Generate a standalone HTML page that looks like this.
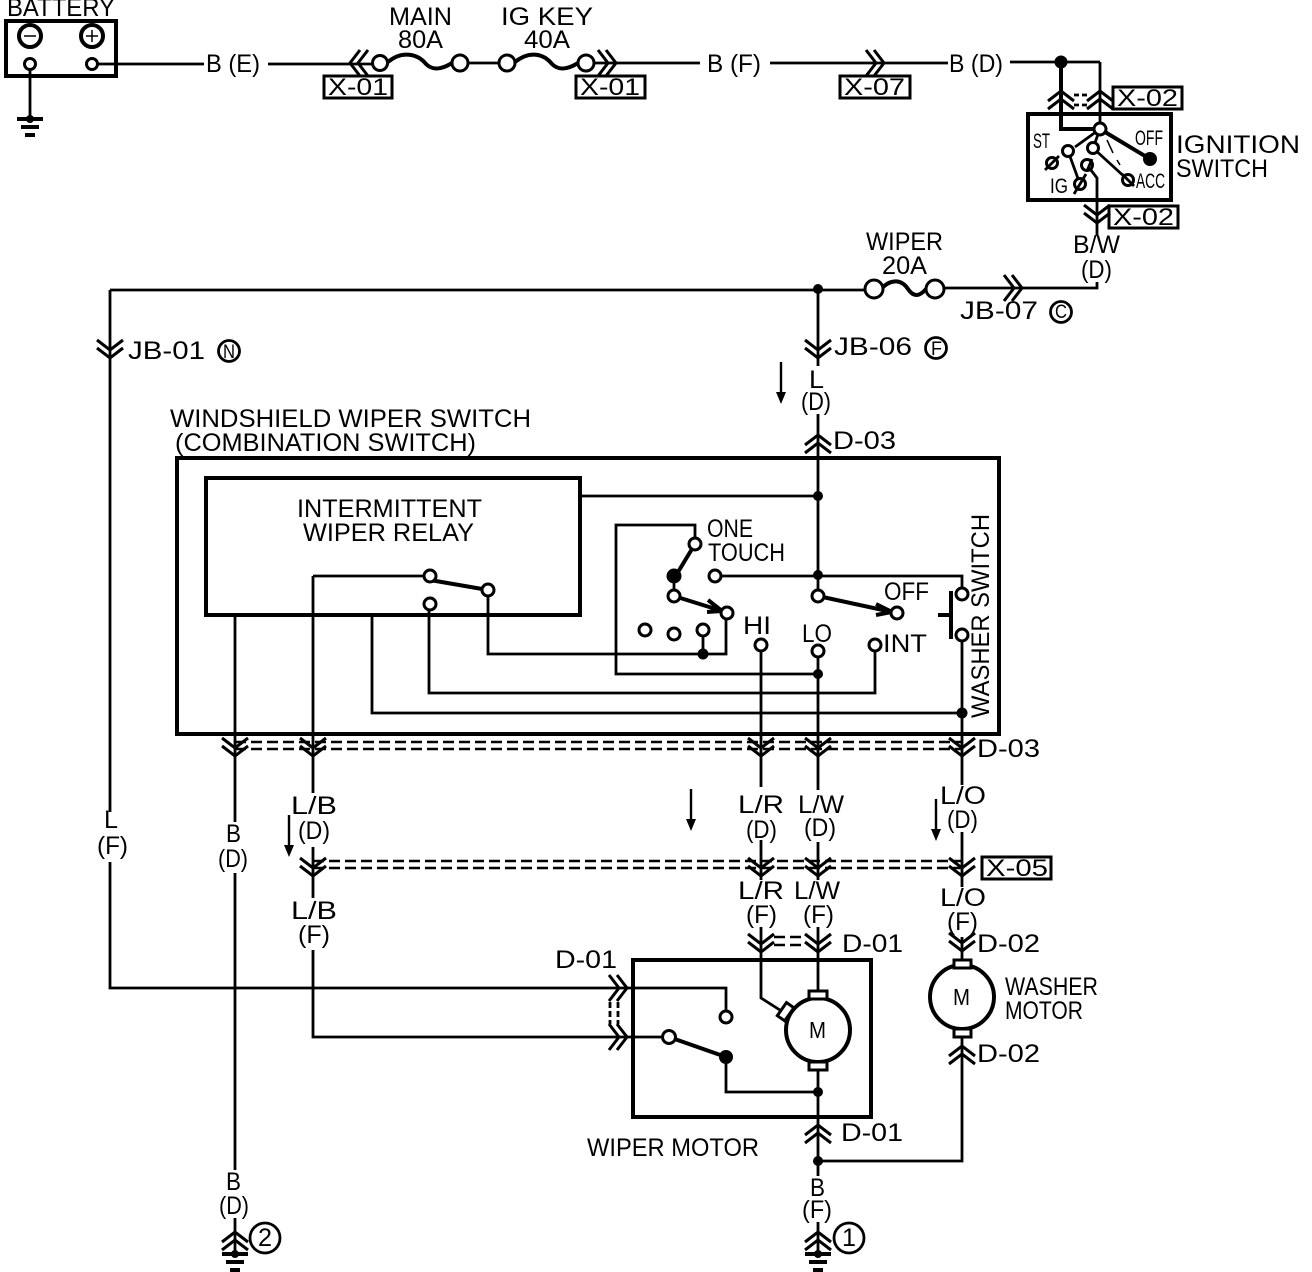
<!DOCTYPE html>
<html><head><meta charset="utf-8"><style>
html,body{margin:0;padding:0;background:#fff;width:1312px;height:1272px;overflow:hidden}
svg{display:block}
text{font-family:"Liberation Sans",sans-serif;font-size:25px;fill:#000}
.w{fill:none;stroke:#000;stroke-width:2.8}
.t{fill:none;stroke:#000;stroke-width:4}
.c{fill:none;stroke:#000;stroke-width:3}
.d{fill:none;stroke:#000;stroke-width:2.4;stroke-dasharray:11 5}
.o{fill:#fff;stroke:#000;stroke-width:3}
.f{fill:#000;stroke:none}
.b{fill:none;stroke:#000;stroke-width:3}
.s{font-size:24px}
.l{font-size:19px}
</style></head><body>
<svg width="1312" height="1272" viewBox="0 0 1312 1272" xmlns="http://www.w3.org/2000/svg">
<defs>
<path id="cd" class="c" d="M-13,-10 L0,0 L13,-10 M-13,-2 L0,8 L13,-2"/>
<path id="cu" class="c" d="M-13,10 L0,0 L13,10 M-13,2 L0,-8 L13,2"/>
<path id="cr" class="c" d="M-10,-13 L0,0 L-10,13 M-2,-13 L8,0 L-2,13"/>
<path id="cl" class="c" d="M10,-13 L0,0 L10,13 M2,-13 L-8,0 L2,13"/>
<g id="gnd"><path class="t" d="M-13,0H13M-9,8H9M-5,16H5"/><circle class="f" r="4"/></g>
<path id="ar" class="f" d="M-5,30 L5,30 L0,42Z M-1.2,0H1.2V32H-1.2Z"/>
</defs>

<!-- battery -->
<rect class="t" x="6" y="21" width="110" height="55"/>
<circle class="t" cx="30" cy="36" r="11"/><path stroke="#000" stroke-width="1.5" d="M24,36H36"/>
<circle class="t" cx="92" cy="36" r="11"/><path stroke="#000" stroke-width="1.5" d="M86,36H98M92,30V42"/>
<path class="w" d="M30,68V119M97,64H204M268,64H380"/>
<circle class="o" cx="30" cy="64" r="5.5"/><circle class="o" cx="92" cy="64" r="5.5"/>
<use href="#gnd" x="30" y="119"/>
<text x="7" y="16" textLength="108" lengthAdjust="spacingAndGlyphs">BATTERY</text>
<text x="206" y="72" textLength="54" lengthAdjust="spacingAndGlyphs">B (E)</text>
<use href="#cl" x="358" y="63"/>

<!-- fuses -->
<path class="t" d="M388,62 C402,50 418,54 426,64 C434,72 444,68 452,63"/>
<path class="w" d="M468,63H500M594,63H700M770,63H948M1010,62H1100"/>
<path class="t" d="M515,62 C530,50 544,54 552,64 C560,72 570,68 578,63"/>
<circle class="o" cx="380" cy="63" r="7.5"/><circle class="o" cx="460" cy="63" r="8"/>
<circle class="o" cx="507" cy="63" r="8"/><circle class="o" cx="586" cy="63" r="8"/>
<use href="#cr" x="608" y="63"/><use href="#cr" x="876" y="63"/>
<text x="389" y="25" textLength="63" lengthAdjust="spacingAndGlyphs">MAIN</text>
<text x="398" y="48" textLength="45" lengthAdjust="spacingAndGlyphs">80A</text>
<text x="501" y="25" textLength="92" lengthAdjust="spacingAndGlyphs">IG KEY</text>
<text x="524" y="48" textLength="46" lengthAdjust="spacingAndGlyphs">40A</text>
<rect class="b" x="324" y="76" width="68" height="22" fill="#fff"/><text x="328" y="95" class="s" textLength="60" lengthAdjust="spacingAndGlyphs">X-01</text>
<rect class="b" x="576" y="76" width="69" height="22"/><text x="580" y="95" class="s" textLength="60" lengthAdjust="spacingAndGlyphs">X-01</text>
<rect class="b" x="840" y="76" width="70" height="22"/><text x="844" y="95" class="s" textLength="61" lengthAdjust="spacingAndGlyphs">X-07</text>
<text x="707" y="72" textLength="54" lengthAdjust="spacingAndGlyphs">B (F)</text>
<text x="949" y="72" textLength="54" lengthAdjust="spacingAndGlyphs">B (D)</text>

<!-- ignition switch -->
<circle class="f" cx="1061" cy="62" r="6.5"/>
<path class="t" d="M1061,62V129H1100"/><path class="w" d="M1100,62V129"/>
<use href="#cu" x="1061" y="99"/><use href="#cu" x="1100" y="99"/>
<path class="w" d="M1074,95H1088M1074,105H1088" stroke-dasharray="5 3"/>
<rect class="t" x="1028" y="114" width="143" height="86"/>
<path class="t" d="M1100,129L1150,159"/><circle class="f" cx="1150" cy="159" r="7"/>
<path class="w" d="M1100,129L1075,147M1100,129L1093,148M1093,148L1128,180M1068,151L1080,184M1087,165L1097,178V236"/>
<path stroke="#000" stroke-width="1.5" d="M1107,140L1113,153M1117,160L1120,165"/>
<circle class="o" cx="1100" cy="129" r="6"/>
<circle class="o" cx="1068" cy="151" r="5.5"/><circle class="o" cx="1052" cy="163" r="5.5"/>
<circle class="o" cx="1093" cy="148" r="5.5"/><circle class="o" cx="1087" cy="165" r="5.5"/>
<circle class="o" cx="1080" cy="184" r="5.5"/><circle class="o" cx="1128" cy="180" r="5.5"/>
<path class="w" d="M1045,170L1059,156M1074,194L1086,174M1122,174L1134,186M1087,171L1092,159"/>
<use href="#cd" x="1097" y="215"/>
<rect class="b" x="1113" y="87" width="69" height="22"/><text x="1117" y="106" class="s" textLength="61" lengthAdjust="spacingAndGlyphs">X-02</text>
<rect class="b" x="1109" y="206" width="69" height="22"/><text x="1113" y="225" class="s" textLength="61" lengthAdjust="spacingAndGlyphs">X-02</text>
<text x="1176" y="153" textLength="124" lengthAdjust="spacingAndGlyphs">IGNITION</text>
<text x="1176" y="177" textLength="92" lengthAdjust="spacingAndGlyphs">SWITCH</text>
<text x="1135" y="145" textLength="28" lengthAdjust="spacingAndGlyphs" style="font-size:21px">OFF</text>
<text x="1033" y="148" textLength="17" lengthAdjust="spacingAndGlyphs" style="font-size:21px">ST</text>
<text x="1050" y="193" textLength="18" lengthAdjust="spacingAndGlyphs" style="font-size:21px">IG</text>
<text x="1136" y="188" textLength="29" lengthAdjust="spacingAndGlyphs" style="font-size:21px">ACC</text>
<text x="1073" y="253" textLength="47" lengthAdjust="spacingAndGlyphs">B/W</text>
<text x="1081" y="278" textLength="31" lengthAdjust="spacingAndGlyphs">(D)</text>

<!-- wiper fuse line -->
<path class="w" d="M1097,282V288H944M110,290H866M110,290V812M110,862V988H625"/>
<path class="t" d="M882,288 C892,278 902,280 908,289 C914,298 920,296 926,289"/>
<circle class="o" cx="874" cy="289" r="9"/><circle class="o" cx="935" cy="289" r="9"/>
<circle class="f" cx="818" cy="289" r="5"/>
<use href="#cr" x="1014" y="288"/>
<text x="866" y="250" textLength="77" lengthAdjust="spacingAndGlyphs">WIPER</text>
<text x="882" y="274" textLength="45" lengthAdjust="spacingAndGlyphs">20A</text>
<text x="960" y="319" textLength="78" lengthAdjust="spacingAndGlyphs">JB-07</text>
<circle class="w" cx="1061" cy="312" r="10.5"/><text x="1055" y="318" class="l" textLength="12" lengthAdjust="spacingAndGlyphs">C</text>
<use href="#cd" x="110" y="350"/>
<text x="128" y="359" textLength="77" lengthAdjust="spacingAndGlyphs">JB-01</text>
<circle class="w" cx="229" cy="351" r="10.5"/><text x="223" y="358" class="l" textLength="12" lengthAdjust="spacingAndGlyphs">N</text>
<path class="w" d="M818,290V366M818,414V596"/>
<use href="#cd" x="818" y="350"/>
<text x="834" y="355" textLength="78" lengthAdjust="spacingAndGlyphs">JB-06</text>
<circle class="w" cx="936" cy="348" r="10.5"/><text x="931" y="355" class="l" textLength="11" lengthAdjust="spacingAndGlyphs">F</text>
<use href="#ar" x="781" y="362"/>
<text x="809" y="388" textLength="15" lengthAdjust="spacingAndGlyphs">L</text>
<text x="801" y="410" textLength="30" lengthAdjust="spacingAndGlyphs">(D)</text>
<use href="#cu" x="818" y="443"/>
<text x="833" y="449" textLength="63" lengthAdjust="spacingAndGlyphs">D-03</text>

<!-- combination switch -->
<text x="170" y="427" textLength="361" lengthAdjust="spacingAndGlyphs">WINDSHIELD WIPER SWITCH</text>
<text x="175" y="451" textLength="301" lengthAdjust="spacingAndGlyphs">(COMBINATION SWITCH)</text>
<rect class="t" x="177" y="458" width="822" height="276"/>
<rect class="t" x="206" y="478" width="374" height="137"/>
<text x="297" y="517" textLength="185" lengthAdjust="spacingAndGlyphs">INTERMITTENT</text>
<text x="303" y="541" textLength="171" lengthAdjust="spacingAndGlyphs">WIPER RELAY</text>
<path class="w" d="M580,496H818"/>
<circle class="f" cx="818" cy="496" r="5"/><circle class="f" cx="818" cy="575" r="5"/>
<circle class="f" cx="818" cy="674" r="5"/><circle class="f" cx="703" cy="654" r="5.5"/>
<circle class="f" cx="962" cy="713" r="5.5"/>
<path class="w" d="M695,544V525H616V674H818"/>
<path class="w" d="M715,576H962V594"/>
<path class="t" d="M695,544L675,577"/><circle class="f" cx="674" cy="576" r="7.5"/>
<path class="w" d="M674,580V596"/>
<path class="t" d="M674,596L722,611M708,600L722,611L707,612"/>
<path class="t" d="M818,596L892,612M876,604L892,612L876,615"/>
<path class="w" d="M726,613V654H488V590M703,630V654M818,651V790M761,645V787M875,645V693H429V604"/>
<path class="w" d="M372,615V713H962M962,635V785M235,615V822M235,873V1170M313,576V793M313,576H430"/>
<path class="t" d="M430,580L488,590"/>
<circle class="o" cx="695" cy="544" r="6"/><circle class="o" cx="715" cy="576" r="6"/>
<circle class="o" cx="674" cy="596" r="6"/><circle class="o" cx="727" cy="613" r="6"/>
<circle class="o" cx="645" cy="630" r="6"/><circle class="o" cx="674" cy="634" r="6"/>
<circle class="o" cx="703" cy="630" r="6"/>
<circle class="o" cx="818" cy="596" r="6"/><circle class="o" cx="897" cy="613" r="6"/>
<circle class="o" cx="761" cy="645" r="6"/><circle class="o" cx="818" cy="651" r="6"/>
<circle class="o" cx="875" cy="645" r="6"/>
<circle class="o" cx="962" cy="594" r="6"/><circle class="o" cx="962" cy="635" r="6"/>
<circle class="o" cx="430" cy="576" r="6"/>
<circle class="o" cx="430" cy="604" r="6"/><circle class="o" cx="488" cy="590" r="6"/>
<path class="t" d="M951,591V639M938,615H951"/>
<text x="707" y="537" textLength="46" lengthAdjust="spacingAndGlyphs">ONE</text>
<text x="708" y="561" textLength="77" lengthAdjust="spacingAndGlyphs">TOUCH</text>
<text x="884" y="600" textLength="45" lengthAdjust="spacingAndGlyphs">OFF</text>
<text x="743" y="634" textLength="28" lengthAdjust="spacingAndGlyphs">HI</text>
<text x="802" y="642" textLength="30" lengthAdjust="spacingAndGlyphs">LO</text>
<text x="883" y="652" textLength="44" lengthAdjust="spacingAndGlyphs">INT</text>
<text transform="translate(989,718) rotate(-90)" textLength="204" lengthAdjust="spacingAndGlyphs">WASHER SWITCH</text>

<!-- D-03 row -->
<path class="d" d="M235,742H962M235,749H962"/>
<use href="#cd" x="235" y="748"/><use href="#cd" x="313" y="748"/><use href="#cd" x="761" y="748"/><use href="#cd" x="818" y="748"/><use href="#cd" x="962" y="748"/>
<text x="977" y="757" textLength="63" lengthAdjust="spacingAndGlyphs">D-03</text>
<use href="#ar" x="691" y="789"/><use href="#ar" x="289" y="815"/><use href="#ar" x="936" y="799"/>
<text x="104" y="828" textLength="14" lengthAdjust="spacingAndGlyphs">L</text>
<text x="97" y="854" textLength="31" lengthAdjust="spacingAndGlyphs">(F)</text>
<text x="226" y="842" textLength="15" lengthAdjust="spacingAndGlyphs">B</text>
<text x="218" y="867" textLength="30" lengthAdjust="spacingAndGlyphs">(D)</text>
<text x="291" y="814" textLength="46" lengthAdjust="spacingAndGlyphs">L/B</text>
<text x="298" y="839" textLength="32" lengthAdjust="spacingAndGlyphs">(D)</text>
<text x="738" y="813" textLength="46" lengthAdjust="spacingAndGlyphs">L/R</text>
<text x="746" y="838" textLength="31" lengthAdjust="spacingAndGlyphs">(D)</text>
<text x="798" y="813" textLength="46" lengthAdjust="spacingAndGlyphs">L/W</text>
<text x="804" y="836" textLength="32" lengthAdjust="spacingAndGlyphs">(D)</text>
<text x="940" y="804" textLength="46" lengthAdjust="spacingAndGlyphs">L/O</text>
<text x="947" y="828" textLength="31" lengthAdjust="spacingAndGlyphs">(D)</text>

<!-- X-05 row -->
<path class="w" d="M313,847V898M761,840V880M818,842V880M962,832V887"/>
<path class="d" d="M313,861H962M313,868H962"/>
<use href="#cd" x="313" y="868"/><use href="#cd" x="761" y="868"/><use href="#cd" x="818" y="868"/><use href="#cd" x="962" y="868"/>
<rect class="b" x="982" y="857" width="69" height="22"/><text x="986" y="876" class="s" textLength="62" lengthAdjust="spacingAndGlyphs">X-05</text>
<text x="291" y="919" textLength="46" lengthAdjust="spacingAndGlyphs">L/B</text>
<text x="298" y="943" textLength="32" lengthAdjust="spacingAndGlyphs">(F)</text>
<text x="738" y="899" textLength="46" lengthAdjust="spacingAndGlyphs">L/R</text>
<text x="746" y="923" textLength="31" lengthAdjust="spacingAndGlyphs">(F)</text>
<text x="794" y="899" textLength="46" lengthAdjust="spacingAndGlyphs">L/W</text>
<text x="803" y="923" textLength="31" lengthAdjust="spacingAndGlyphs">(F)</text>
<text x="940" y="906" textLength="46" lengthAdjust="spacingAndGlyphs">L/O</text>
<text x="947" y="930" textLength="31" lengthAdjust="spacingAndGlyphs">(F)</text>

<!-- wiper motor -->
<path class="w" d="M313,950V1037H669M761,927V998L783,1012M818,927V992M818,1070V1176"/>
<path class="d" d="M774,937H805M774,945H805" stroke-dasharray="8 3"/>
<use href="#cd" x="761" y="944"/><use href="#cd" x="818" y="944"/>
<text x="842" y="952" textLength="61" lengthAdjust="spacingAndGlyphs">D-01</text>
<rect class="t" x="633" y="960" width="238" height="157"/>
<text x="555" y="968" textLength="62" lengthAdjust="spacingAndGlyphs">D-01</text>
<use href="#cr" x="619" y="988"/><use href="#cr" x="619" y="1037"/>
<path class="w" d="M610,1002V1024M618,1002V1024" stroke-dasharray="6 3"/>
<path class="w" d="M625,988H726V1017"/><circle class="o" cx="726" cy="1017" r="6"/>
<path class="t" d="M669,1037L726,1057"/><circle class="f" cx="726" cy="1057" r="7"/>
<path class="w" d="M726,1057V1092H818"/><circle class="f" cx="818" cy="1092" r="5"/>
<circle class="o" cx="669" cy="1037" r="6.5"/>
<circle cx="818" cy="1030" r="32" fill="#fff" stroke="#000" stroke-width="4"/>
<rect class="o" x="809" y="991" width="18" height="8"/><rect class="o" x="809" y="1062" width="18" height="8"/>
<rect class="o" x="-8" y="-5" width="16" height="9" transform="translate(786,1012) rotate(-55)"/>
<text x="809" y="1038" style="font-size:23px" textLength="17" lengthAdjust="spacingAndGlyphs">M</text>
<use href="#cu" x="818" y="1133"/>
<text x="841" y="1141" textLength="62" lengthAdjust="spacingAndGlyphs">D-01</text>
<text x="587" y="1156" textLength="172" lengthAdjust="spacingAndGlyphs">WIPER MOTOR</text>

<!-- washer motor -->
<path class="w" d="M962,937V960M962,1035V1161H818"/>
<use href="#cd" x="962" y="943"/>
<text x="977" y="952" textLength="63" lengthAdjust="spacingAndGlyphs">D-02</text>
<circle cx="962" cy="997" r="32" fill="#fff" stroke="#000" stroke-width="4"/>
<rect class="o" x="954" y="960" width="17" height="8"/><rect class="o" x="954" y="1029" width="17" height="8"/>
<text x="953" y="1005" style="font-size:23px" textLength="17" lengthAdjust="spacingAndGlyphs">M</text>
<text x="1005" y="995" textLength="93" lengthAdjust="spacingAndGlyphs">WASHER</text>
<text x="1005" y="1019" textLength="78" lengthAdjust="spacingAndGlyphs">MOTOR</text>
<use href="#cu" x="962" y="1054"/>
<text x="977" y="1062" textLength="63" lengthAdjust="spacingAndGlyphs">D-02</text>
<circle class="f" cx="818" cy="1161" r="5"/>

<!-- grounds -->
<text x="226" y="1190" textLength="15" lengthAdjust="spacingAndGlyphs">B</text>
<text x="219" y="1214" textLength="30" lengthAdjust="spacingAndGlyphs">(D)</text>
<path class="w" d="M235,1218V1254"/><use href="#cu" x="235" y="1240"/><use href="#gnd" x="235" y="1254"/>
<circle class="w" cx="265" cy="1238" r="15"/><text x="258" y="1246" textLength="14" lengthAdjust="spacingAndGlyphs">2</text>
<text x="810" y="1196" textLength="15" lengthAdjust="spacingAndGlyphs">B</text>
<text x="802" y="1218" textLength="30" lengthAdjust="spacingAndGlyphs">(F)</text>
<path class="w" d="M818,1222V1254"/><use href="#cu" x="818" y="1240"/><use href="#gnd" x="818" y="1254"/>
<circle class="w" cx="849" cy="1238" r="15"/><text x="842" y="1246" textLength="14" lengthAdjust="spacingAndGlyphs">1</text>
</svg>
</body></html>
